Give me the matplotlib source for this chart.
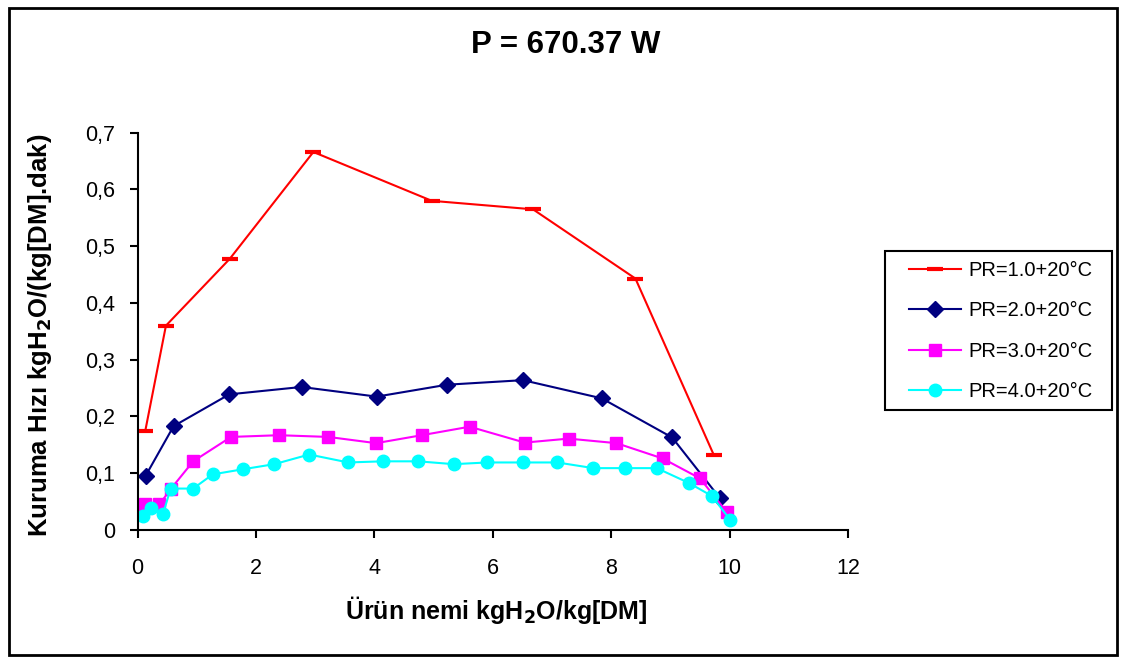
import matplotlib
matplotlib.use("Agg")
import matplotlib.pyplot as plt
from matplotlib.patches import Rectangle
from matplotlib.ticker import FuncFormatter, MultipleLocator

plt.rcParams['font.family'] = ['Liberation Sans', 'DejaVu Sans']

title = "P = 670.37 W"
xlabel = "Ürün nemi kgH$_\\mathbf{2}$O/kg[DM]"
ylabel = "Kuruma Hızı kgH$_\\mathbf{2}$O/(kg[DM].dak)"

labels = ["PR=1.0+20°C", "PR=2.0+20°C", "PR=3.0+20°C", "PR=4.0+20°C"]

x1 = [0.13, 0.48, 1.56, 2.97, 4.97, 6.68, 8.41, 9.73]
y1 = [0.174, 0.360, 0.478, 0.666, 0.580, 0.565, 0.443, 0.133]

x2 = [0.14, 0.61, 1.55, 2.77, 4.04, 5.23, 6.51, 7.84, 9.03, 9.83]
y2 = [0.096, 0.183, 0.239, 0.252, 0.235, 0.256, 0.264, 0.232, 0.163, 0.057]

x3 = [0.12, 0.37, 0.56, 0.94, 1.58, 2.39, 3.22, 4.03, 4.80, 5.61, 6.54, 7.28, 8.09, 8.87, 9.50, 9.95]
y3 = [0.045, 0.045, 0.072, 0.121, 0.164, 0.167, 0.164, 0.153, 0.167, 0.182, 0.154, 0.161, 0.153, 0.126, 0.091, 0.032]

x4 = [0.09, 0.22, 0.43, 0.56, 0.94, 1.27, 1.78, 2.31, 2.90, 3.56, 4.14, 4.74, 5.34, 5.91, 6.51, 7.09, 7.70, 8.23, 8.77, 9.31, 9.70, 10.01]
y4 = [0.025, 0.039, 0.028, 0.073, 0.073, 0.098, 0.107, 0.116, 0.133, 0.119, 0.121, 0.121, 0.116, 0.119, 0.119, 0.119, 0.109, 0.109, 0.109, 0.083, 0.060, 0.018]

W, H = 1122, 657
fig = plt.figure(figsize=(W / 100, H / 100), dpi=100)
ax = fig.add_axes([137.5 / W, 1 - 530 / H, (848 - 137.5) / W, (530 - 132.7) / H])

ax.plot(x1, y1, color='#ff0000', lw=1.5, marker='_', ms=12, mew=3, label=labels[0])
ax.plot(x2, y2, color='#000080', lw=1.5, marker='D', ms=8, label=labels[1])
ax.plot(x3, y3, color='#ff00ff', lw=1.5, marker='s', ms=8.5, label=labels[2])
ax.plot(x4, y4, color='#00ffff', lw=1.5, marker='o', ms=9, label=labels[3])

ax.set_xlim(0, 12)
ax.set_ylim(0, 0.7)
ax.xaxis.set_major_locator(MultipleLocator(2))
ax.yaxis.set_major_locator(MultipleLocator(0.1))
ax.yaxis.set_major_formatter(FuncFormatter(lambda v, p: "0" if abs(v) < 1e-9 else f"{v:.1f}".replace('.', ',')))
for s in ['top', 'right']:
    ax.spines[s].set_visible(False)
for s in ['left', 'bottom']:
    ax.spines[s].set_linewidth(1.5)
ax.tick_params(axis='both', direction='out', length=6, width=1.5, labelsize=15.5)
ax.tick_params(axis='x', pad=14)
ax.tick_params(axis='y', pad=10)

fig.text(566 / W, 1 - 45 / H, title, ha='center', va='center', fontsize=22.5, fontweight='bold')
fig.text(496 / W, 1 - 610 / H, xlabel, ha='center', va='center', fontsize=18, fontweight='bold')
fig.text(40 / W, 1 - 335 / H, ylabel, ha='center', va='center', rotation=90, fontsize=18.5, fontweight='bold')

leg = ax.legend(loc='upper left', bbox_to_anchor=(909 / W, 1 - 261 / H), bbox_transform=fig.transFigure,
                fontsize=14.5, frameon=False, handlelength=2.6,
                handletextpad=0.35, labelspacing=1.06, borderpad=0, borderaxespad=0)

# legend frame (fixed box)
fig.patches.append(Rectangle((885 / W, 1 - 410 / H), (1112 - 885) / W, (410 - 251) / H,
                             transform=fig.transFigure, fill=False, edgecolor='black', lw=1.5))
# outer chart border
fig.patches.append(Rectangle((9 / W, 1 - 655 / H), (1117 - 9) / W, (655 - 8) / H,
                             transform=fig.transFigure, fill=False, edgecolor='black', lw=2))

fig.savefig("out.png", dpi=100)
